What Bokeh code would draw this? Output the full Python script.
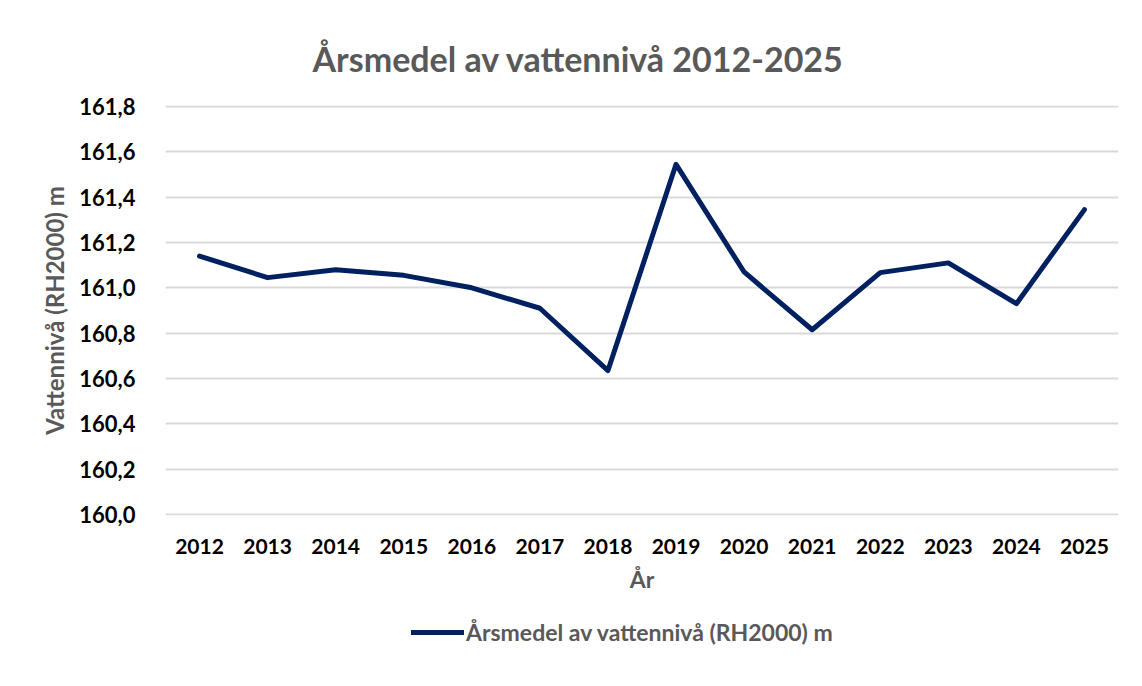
from bokeh.plotting import figure
from bokeh.layouts import column
from bokeh.models import (ColumnDataSource, FactorRange, Range1d, FixedTicker,
                          CustomJSTickFormatter, Legend, LegendItem)
from bokeh.embed import file_html
from bokeh.resources import INLINE

# ---- data ----
years = ["2012", "2013", "2014", "2015", "2016", "2017", "2018",
         "2019", "2020", "2021", "2022", "2023", "2024", "2025"]
levels = [161.14, 161.045, 161.08, 161.055, 161.00, 160.91, 160.635,
          161.545, 161.07, 160.815, 161.067, 161.11, 160.93, 161.345]
y_ticks = [160.0, 160.2, 160.4, 160.6, 160.8, 161.0, 161.2, 161.4, 161.6, 161.8]
title_text = "Årsmedel av vattennivå 2012-2025"
series_name = "Årsmedel av vattennivå (RH2000) m"
x_label = "År"
y_label = "Vattennivå (RH2000) m"

FONT = "Lato"
GRAY = "#595959"
LINE = "#002060"

src = ColumnDataSource(data=dict(year=years, level=levels))

p = figure(frame_width=953, frame_height=410,
           x_range=FactorRange(factors=years, range_padding=0),
           y_range=Range1d(y_ticks[0] - 0.0044, y_ticks[-1] + 0.0044),
           output_backend="svg", toolbar_location=None,
           min_border_left=165, min_border_right=15,
           min_border_top=105, min_border_bottom=85)

p.outline_line_color = None
p.background_fill_color = "white"
p.border_fill_color = "white"

# title
p.title.text = title_text
p.title.align = "left"
p.title.offset = 147
p.title.text_font = FONT
p.title.text_font_size = "34px"
p.title.text_font_style = "bold"
p.title.text_color = GRAY
p.title.standoff = 53

# grid
p.xgrid.grid_line_color = None
p.ygrid.grid_line_color = "#d9d9d9"
p.ygrid.grid_line_width = 2

# axes
for ax in (p.xaxis[0], p.yaxis[0]):
    ax.axis_line_color = None
    ax.major_tick_line_color = None
    ax.minor_tick_line_color = None
    ax.major_label_text_font = FONT
    ax.major_label_text_font_style = "bold"
    ax.major_label_text_color = "black"
    ax.axis_label_text_font = FONT
    ax.axis_label_text_font_style = "bold"
    ax.axis_label_text_color = GRAY

p.yaxis.ticker = FixedTicker(ticks=y_ticks)
p.yaxis.formatter = CustomJSTickFormatter(code="return tick.toFixed(1).replace('.', ',');")
p.yaxis.axis_label = y_label
p.yaxis.major_label_text_font_size = "22px"
p.yaxis.axis_label_text_font_size = "24px"
p.yaxis.major_label_standoff = 24
p.yaxis.axis_label_standoff = 7

p.xaxis.axis_label = x_label
p.xaxis.major_label_text_font_size = "21px"
p.xaxis.axis_label_text_font_size = "23px"
p.xaxis.major_label_standoff = 17
p.xaxis.axis_label_standoff = 8

p.line(x="year", y="level", source=src, line_color=LINE, line_width=5,
       line_cap="round", line_join="round")

# legend strip below the chart (its line lies outside this strip's y range,
# so only the legend entry is visible)
p2 = figure(width=1133, height=80, x_range=p.x_range, y_range=Range1d(0, 1),
            x_axis_type=None, y_axis_type=None,
            output_backend="svg", toolbar_location=None,
            min_border_left=165, min_border_right=15,
            min_border_top=0, min_border_bottom=0)
p2.outline_line_color = None
p2.background_fill_color = "white"
p2.border_fill_color = "white"
p2.xgrid.grid_line_color = None
p2.ygrid.grid_line_color = None
r2 = p2.line(x="year", y="level", source=src, line_color=LINE, line_width=5,
             line_cap="round")

legend = Legend(items=[LegendItem(label=series_name, renderers=[r2])],
                orientation="horizontal", location=(246, 34),
                glyph_width=53, glyph_height=20, label_standoff=2,
                label_text_font=FONT, label_text_font_size="23px",
                label_text_font_style="bold", label_text_color=GRAY,
                border_line_color=None, background_fill_alpha=0,
                margin=0, padding=0)
p2.add_layout(legend, "center")

layout = column(p, p2, spacing=0)

open("out.html", "w").write(file_html(layout, INLINE))
